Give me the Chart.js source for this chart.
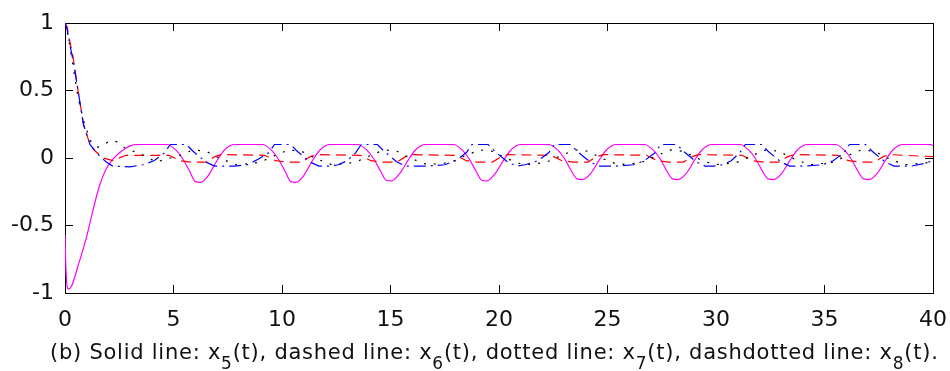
<!DOCTYPE html>
<html lang="en">
<head>
<meta charset="UTF-8" />
<title>x5 - x8 responses</title>
<script src="https://cdn.jsdelivr.net/npm/chart.js"></script>
<style>
  html, body { margin: 0; padding: 0; background: #fff; }
  .wrap { position: relative; width: 950px; height: 371px; overflow: hidden; background: #fff; }
  #plot { position: absolute; left: 0; top: 0; }
  .caption {
    position: absolute;
    top: 340px;
    left: 50px;
    font-family: 'DejaVu Sans', sans-serif;
    font-size: 21px;
    letter-spacing: 0.75px;
    line-height: 24px;
    white-space: nowrap;
    color: #111;
  }
  .caption sub { font-size: 17px; vertical-align: baseline; position: relative; top: 10px; }
</style>
</head>
<body>
<div class="wrap">
  <canvas id="plot" width="950" height="371"></canvas>
  <div class="caption">(b) Solid line: x<sub>5</sub>(t), dashed line: x<sub>6</sub>(t), dotted line: x<sub>7</sub>(t), dashdotted line: x<sub>8</sub>(t).</div>
</div>

<script>
// axis ticks
const xTicks = [0, 5, 10, 15, 20, 25, 30, 35, 40];
const xTickLabels = ['0', '5', '10', '15', '20', '25', '30', '35', '40'];
const yTicks = [-1, -0.5, 0, 0.5, 1];
const yTickLabels = ['-1', '-0.5', '0', '0.5', '1'];

// x5(t) - solid, magenta
const x5T = [0, 0.05, 0.15, 0.3, 0.6, 1.0, 1.3, 1.6, 1.9, 2.2, 2.6, 3.0, 3.3,
  4.7, 5.1, 5.4, 5.75, 6.0, 6.25, 6.6, 7.0, 7.3, 7.6, 7.8,
  9.1, 9.5, 9.8, 10.15, 10.4, 10.65, 11.0, 11.4, 11.7, 12.0, 12.2,
  13.5, 13.9, 14.2, 14.55, 14.8, 15.05, 15.4, 15.8, 16.1, 16.4, 16.6,
  17.9, 18.3, 18.6, 18.95, 19.2, 19.45, 19.8, 20.2, 20.5, 20.8, 21.0,
  22.3, 22.7, 23.0, 23.35, 23.6, 23.85, 24.2, 24.6, 24.9, 25.2, 25.4,
  26.7, 27.1, 27.4, 27.75, 28.0, 28.25, 28.6, 29.0, 29.3, 29.6, 29.8,
  31.1, 31.5, 31.8, 32.15, 32.4, 32.65, 33.0, 33.4, 33.7, 34.0, 34.2,
  35.5, 35.9, 36.2, 36.55, 36.8, 37.05, 37.4, 37.8, 38.1, 38.4, 38.6,
  39.9, 40];
const x5Y = [-0.57, -0.85, -0.97, -0.95, -0.8, -0.58, -0.38, -0.2, -0.08, -0.01, 0.05, 0.09, 0.10,
  0.10, 0.06, 0.0, -0.10, -0.175, -0.18, -0.13, -0.02, 0.05, 0.09, 0.10,
  0.10, 0.06, 0.0, -0.10, -0.175, -0.18, -0.13, -0.02, 0.05, 0.09, 0.10,
  0.10, 0.06, 0.0, -0.10, -0.165, -0.17, -0.12, -0.02, 0.05, 0.09, 0.10,
  0.10, 0.06, 0.0, -0.10, -0.165, -0.17, -0.12, -0.02, 0.05, 0.09, 0.10,
  0.10, 0.06, 0.0, -0.10, -0.155, -0.16, -0.12, -0.02, 0.05, 0.09, 0.10,
  0.10, 0.06, 0.0, -0.10, -0.155, -0.16, -0.12, -0.02, 0.05, 0.09, 0.10,
  0.10, 0.06, 0.0, -0.10, -0.155, -0.16, -0.12, -0.02, 0.05, 0.09, 0.10,
  0.10, 0.06, 0.0, -0.10, -0.155, -0.16, -0.12, -0.02, 0.05, 0.09, 0.10,
  0.10, 0.09];

// x6(t) - dashed, red
const x6T = [0, 0.1, 0.2, 0.37, 0.6, 0.85, 1.15, 1.4, 1.75, 2.2, 2.8,
  4.8, 5.3, 5.8, 6.5, 6.9, 7.2,
  9.2, 9.7, 10.2, 10.9, 11.3, 11.6,
  13.6, 14.1, 14.6, 15.3, 15.7, 16.0,
  18.0, 18.5, 19.0, 19.7, 20.1, 20.4,
  22.4, 22.9, 23.4, 24.1, 24.5, 24.8,
  26.8, 27.3, 27.8, 28.5, 28.9, 29.2,
  31.2, 31.7, 32.2, 32.9, 33.3, 33.6,
  35.6, 36.1, 36.6, 37.3, 37.7, 38.0,
  40];
const x6Y = [1, 0.97, 0.88, 0.75, 0.5, 0.25, 0.1, 0.05, 0.0, -0.02, 0.02,
  0.02, -0.02, -0.03, -0.03, 0.01, 0.025,
  0.02, -0.02, -0.03, -0.03, 0.01, 0.025,
  0.02, -0.02, -0.03, -0.03, 0.01, 0.025,
  0.02, -0.02, -0.03, -0.03, 0.01, 0.025,
  0.02, -0.02, -0.03, -0.03, 0.01, 0.025,
  0.02, -0.02, -0.03, -0.03, 0.01, 0.025,
  0.02, -0.02, -0.03, -0.03, 0.01, 0.025,
  0.02, -0.02, -0.03, -0.03, 0.01, 0.025,
  0.01];

// x7(t) - dotted, black
const x7T = [0, 0.15, 0.3, 0.6, 0.9, 1.2, 1.5, 1.8, 2.1, 2.4, 2.8, 3.5, 4.2,
  5.3, 5.9, 6.5, 7.1, 7.9, 8.6, 9.0,
  9.7, 10.3, 10.9, 11.5, 12.3, 13.0, 13.4,
  14.1, 14.7, 15.3, 15.9, 16.7, 17.4, 17.8,
  18.5, 19.1, 19.7, 20.3, 21.1, 21.8, 22.2,
  22.9, 23.5, 24.1, 24.7, 25.5, 26.2, 26.6,
  27.3, 27.9, 28.5, 29.1, 29.9, 30.6, 31.0,
  31.7, 32.3, 32.9, 33.5, 34.3, 35.0, 35.4,
  36.1, 36.7, 37.3, 37.9, 38.7, 39.4, 40];
const x7Y = [1, 0.9, 0.75, 0.45, 0.25, 0.12, 0.08, 0.1, 0.13, 0.12, 0.07, 0.03, -0.03,
  0.02, 0.06, 0.05, 0.0, -0.05, -0.04, -0.03,
  0.02, 0.06, 0.05, 0.0, -0.05, -0.04, -0.03,
  0.02, 0.06, 0.05, 0.0, -0.05, -0.04, -0.03,
  0.02, 0.06, 0.05, 0.0, -0.05, -0.04, -0.03,
  0.02, 0.06, 0.05, 0.0, -0.05, -0.04, -0.03,
  0.02, 0.06, 0.05, 0.0, -0.05, -0.04, -0.03,
  0.02, 0.06, 0.05, 0.0, -0.05, -0.04, -0.03,
  0.02, 0.06, 0.05, 0.0, -0.05, -0.04, -0.03];

// x8(t) - dashdotted, blue
const x8T = [0, 0.1, 0.2, 0.4, 0.6, 0.85, 1.15, 1.5, 1.9, 2.2, 3.0, 3.6, 4.1, 4.6, 4.85, 5.6, 5.9, 6.5, 6.9,
  7.8, 8.4, 8.9, 9.4, 9.65, 10.4, 10.7, 11.3, 11.7,
  12.2, 12.6, 13.0, 13.4, 13.65, 14.4, 14.7, 15.3, 15.7,
  16.7, 17.5, 18.0, 18.5, 18.75, 19.5, 19.8, 20.4, 20.8,
  21.2, 21.8, 22.3, 22.55, 23.3, 23.6, 24.2, 24.6,
  25.4, 26.2, 26.7, 27.2, 27.45, 28.2, 28.5, 29.1, 29.5,
  29.9, 30.3, 30.7, 31.1, 31.35, 32.1, 32.4, 33.0, 33.4,
  34.1, 34.9, 35.4, 35.9, 36.15, 36.9, 37.2, 37.8, 38.2, 39.0, 39.6, 40];
const x8Y = [1, 0.95, 0.86, 0.7, 0.5, 0.25, 0.1, 0.03, -0.03, -0.06, -0.065, -0.05, -0.02, 0.04, 0.10, 0.10, 0.05, -0.03, -0.06,
  -0.06, -0.05, -0.01, 0.04, 0.10, 0.10, 0.05, -0.03, -0.06,
  -0.06, -0.05, -0.02, 0.04, 0.10, 0.10, 0.05, -0.03, -0.06,
  -0.06, -0.05, -0.02, 0.04, 0.10, 0.10, 0.05, -0.03, -0.06,
  -0.05, -0.02, 0.04, 0.10, 0.10, 0.05, -0.03, -0.06,
  -0.06, -0.05, -0.02, 0.04, 0.10, 0.10, 0.05, -0.03, -0.06,
  -0.06, -0.05, -0.02, 0.04, 0.10, 0.10, 0.05, -0.03, -0.06,
  -0.06, -0.05, -0.02, 0.04, 0.10, 0.10, 0.05, -0.03, -0.06, -0.06, -0.04, -0.02];

function pairs(ts, ys) {
  return ts.map((t, i) => ({ x: t, y: ys[i] }));
}

// MATLAB style box: four axes, black border, short ticks pointing inward
const boxGrid = { display: true, drawOnChartArea: false, drawTicks: true, tickLength: -8, color: '#000', lineWidth: 1 };
const boxBorder = { display: true, color: '#000', width: 1 };
const setXTicks = s => { s.ticks = xTicks.map(v => ({ value: v })); };
const setYTicks = s => { s.ticks = yTicks.map(v => ({ value: v })); };

Chart.defaults.font.family = "'DejaVu Sans', sans-serif";
Chart.defaults.color = '#111';

new Chart(document.getElementById('plot'), {
  type: 'line',
  data: {
    datasets: [
      { label: 'x8', data: pairs(x8T, x8Y), borderColor: '#0000ff', borderDash: [12, 5, 2, 5], order: 1, xAxisID: 'x', yAxisID: 'y' },
      { label: 'x7', data: pairs(x7T, x7Y), borderColor: '#000000', borderDash: [2, 8], order: 2, xAxisID: 'x', yAxisID: 'y' },
      { label: 'x6', data: pairs(x6T, x6Y), borderColor: '#ff0000', borderDash: [10, 6], order: 3, xAxisID: 'x', yAxisID: 'y' },
      { label: 'x5', data: pairs(x5T, x5Y), borderColor: '#ff00ff', cubicInterpolationMode: 'monotone', order: 4, xAxisID: 'x', yAxisID: 'y' }
    ]
  },
  options: {
    responsive: false,
    animation: false,
    layout: { padding: { left: 0, right: 17, top: 23, bottom: 0 } },
    elements: {
      point: { radius: 0 },
      line: { borderWidth: 1.2, tension: 0, fill: false }
    },
    plugins: {
      legend: { display: false },
      tooltip: { enabled: false }
    },
    scales: {
      x: {
        type: 'linear',
        position: 'bottom',
        min: 0,
        max: 40,
        grid: boxGrid,
        border: boxBorder,
        afterBuildTicks: setXTicks,
        afterFit: s => { s.height = 78; s.paddingLeft = 0; s.paddingRight = 0; },
        ticks: {
          padding: 22,
          font: { size: 22 },
          maxRotation: 0,
          callback: (v) => xTickLabels[xTicks.indexOf(v)]
        }
      },
      x2: {
        type: 'linear',
        position: 'top',
        min: 0,
        max: 40,
        grid: boxGrid,
        border: boxBorder,
        afterBuildTicks: setXTicks,
        afterFit: s => { s.height = 0; s.paddingLeft = 0; s.paddingRight = 0; },
        ticks: { display: false }
      },
      y: {
        type: 'linear',
        position: 'left',
        min: -1,
        max: 1,
        grid: boxGrid,
        border: boxBorder,
        afterBuildTicks: setYTicks,
        afterFit: s => { s.width = 65; s.paddingTop = 0; s.paddingBottom = 0; },
        ticks: {
          padding: 19,
          font: { size: 22 },
          callback: (v) => yTickLabels[yTicks.indexOf(v)]
        }
      },
      y2: {
        type: 'linear',
        position: 'right',
        min: -1,
        max: 1,
        grid: boxGrid,
        border: boxBorder,
        afterBuildTicks: setYTicks,
        afterFit: s => { s.width = 0; s.paddingTop = 0; s.paddingBottom = 0; },
        ticks: { display: false }
      }
    }
  }
});
</script>
</body>
</html>
